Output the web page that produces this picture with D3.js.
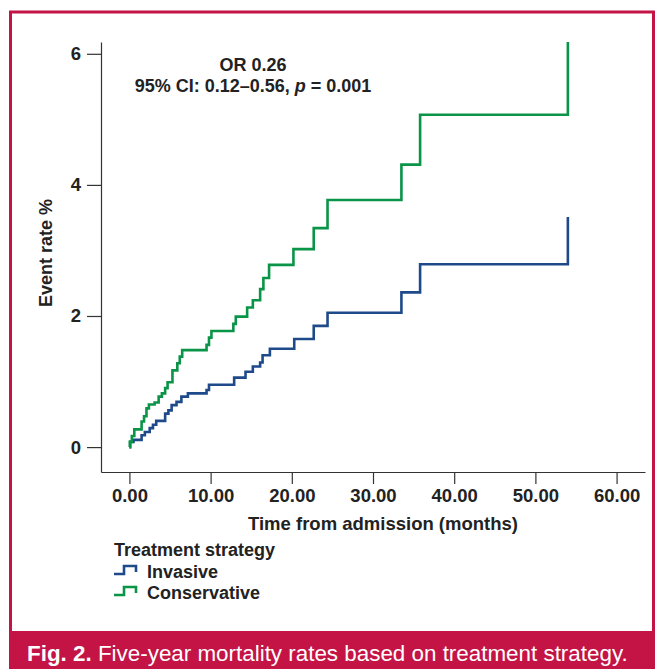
<!DOCTYPE html>
<html>
<head>
<meta charset="utf-8">
<script src="https://cdn.jsdelivr.net/npm/d3@7"></script>
<style>
  body { margin: 0; background: #fff; }
  text { font-family: "Liberation Sans", Arial, sans-serif; }
</style>
</head>
<body>
<script>
// step points: [months, event rate %]
const invasive = [
  [0, 0], [0.1, 0.08], [0.5, 0.11], [1.5, 0.18], [1.9, 0.23], [2.5, 0.29], [2.9, 0.34],
  [3.3, 0.40], [4.4, 0.51], [4.8, 0.56], [5.2, 0.64], [5.8, 0.69], [6.4, 0.77], [7.2, 0.82],
  [9.5, 0.87], [9.8, 0.95], [12.9, 1.06], [14.3, 1.15], [15.2, 1.23], [16.1, 1.29],
  [16.4, 1.40], [17.3, 1.50], [20.3, 1.65], [22.7, 1.85], [24.4, 2.05], [33.5, 2.36],
  [35.8, 2.79], [54.0, 3.51]
];
const conservative = [
  [0, 0], [0.05, 0.08], [0.3, 0.17], [0.6, 0.27], [1.5, 0.39], [1.8, 0.47], [2.1, 0.59],
  [2.4, 0.65], [3.1, 0.68], [3.6, 0.77], [4.0, 0.82], [4.4, 0.90], [4.7, 0.99], [5.3, 1.17],
  [5.9, 1.28], [6.2, 1.38], [6.5, 1.48], [9.5, 1.56], [9.8, 1.67], [10.1, 1.77],
  [12.8, 1.88], [13.1, 1.99], [14.5, 2.13], [15.2, 2.24], [16.1, 2.41], [16.5, 2.58],
  [17.2, 2.78], [20.2, 3.02], [22.7, 3.34], [24.4, 3.77], [33.5, 4.31], [35.8, 5.07],
  [54.0, 6.18]
];
const xTicks = [0, 10, 20, 30, 40, 50, 60];
const yTicks = [0, 2, 4, 6];
const seriesNames = ["Invasive", "Conservative"];
const seriesColors = ["#1f4a8a", "#0a9447"];

const W = 657, H = 669;
const crimson = "#c41446";

const svg = d3.select("body").append("svg")
  .attr("width", W).attr("height", H);

// frame + caption band
svg.append("rect")
  .attr("x", 10.5).attr("y", 12).attr("width", 643).attr("height", 640)
  .attr("fill", "none").attr("stroke", crimson).attr("stroke-width", 3);
svg.append("rect")
  .attr("x", 9).attr("y", 631).attr("width", 646).attr("height", 38)
  .attr("fill", crimson);
const cap = svg.append("text")
  .attr("x", 27).attr("y", 661)
  .attr("fill", "#fff").style("font-size", "22.4px");
cap.append("tspan").attr("font-weight", "bold").text("Fig. 2.");
cap.append("tspan").text(" Five-year mortality rates based on treatment strategy.");

const x = d3.scaleLinear().domain([-3.5, 63.5]).range([101, 645]);
const y = d3.scaleLinear().domain([-0.38, 6.18]).range([472, 42]);

// axes
const xAxis = svg.append("g")
  .attr("transform", `translate(0,${y(-0.38)})`)
  .call(d3.axisBottom(x).tickValues(xTicks).tickFormat(d3.format(".2f"))
    .tickSize(12).tickSizeOuter(0).tickPadding(5));
const yAxis = svg.append("g")
  .attr("transform", `translate(${x(-3.5)},0)`)
  .call(d3.axisLeft(y).tickValues(yTicks).tickFormat(d3.format("d"))
    .tickSize(14).tickSizeOuter(0).tickPadding(6));

[xAxis, yAxis].forEach(g => {
  g.selectAll("path, line").attr("stroke", "#333").attr("stroke-width", 1.2);
  g.selectAll("text")
    .attr("fill", "#222")
    .style("font-family", "'Liberation Sans', Arial, sans-serif")
    .style("font-size", "18.5px").style("font-weight", "bold");
});

svg.append("text")
  .attr("x", 383).attr("y", 530).attr("text-anchor", "middle")
  .attr("fill", "#222").style("font-size", "18.5px").style("font-weight", "bold")
  .text("Time from admission (months)");
svg.append("text")
  .attr("transform", "translate(52,253) rotate(-90)")
  .attr("text-anchor", "middle")
  .attr("fill", "#222").style("font-size", "18px").style("font-weight", "bold")
  .text("Event rate %");

// annotation
svg.append("text")
  .attr("x", 253).attr("y", 71).attr("text-anchor", "middle")
  .attr("fill", "#222").style("font-size", "18px").style("font-weight", "bold")
  .text("OR 0.26");
const ann = svg.append("text")
  .attr("x", 253).attr("y", 92).attr("text-anchor", "middle")
  .attr("fill", "#222").style("font-size", "18px").style("font-weight", "bold");
ann.append("tspan").text("95% CI: 0.12\u20130.56, ");
ann.append("tspan").style("font-style", "italic").text("p");
ann.append("tspan").text(" = 0.001");

// curves
const line = d3.line()
  .x(d => x(d[0])).y(d => y(d[1]))
  .curve(d3.curveStepAfter);

[invasive, conservative].forEach((data, i) => {
  svg.append("path")
    .datum(data)
    .attr("d", line)
    .attr("fill", "none")
    .attr("stroke", seriesColors[i])
    .attr("stroke-width", 2.6)
    .attr("stroke-linejoin", "miter");
});

// legend
svg.append("text")
  .attr("x", 114).attr("y", 556)
  .attr("fill", "#222").style("font-size", "18px").style("font-weight", "bold")
  .text("Treatment strategy");

seriesNames.forEach((name, i) => {
  const ly = 578 + i * 21;
  const icon = [[114, ly - 4], [124, ly - 4], [124, ly - 12], [136, ly - 12], [136, ly - 6]];
  svg.append("path")
    .attr("d", d3.line()(icon))
    .attr("fill", "none")
    .attr("stroke", seriesColors[i])
    .attr("stroke-width", 2.6);
  svg.append("text")
    .attr("x", 147).attr("y", ly)
    .attr("fill", "#222").style("font-size", "18px").style("font-weight", "bold")
    .text(name);
});
</script>
</body>
</html>
